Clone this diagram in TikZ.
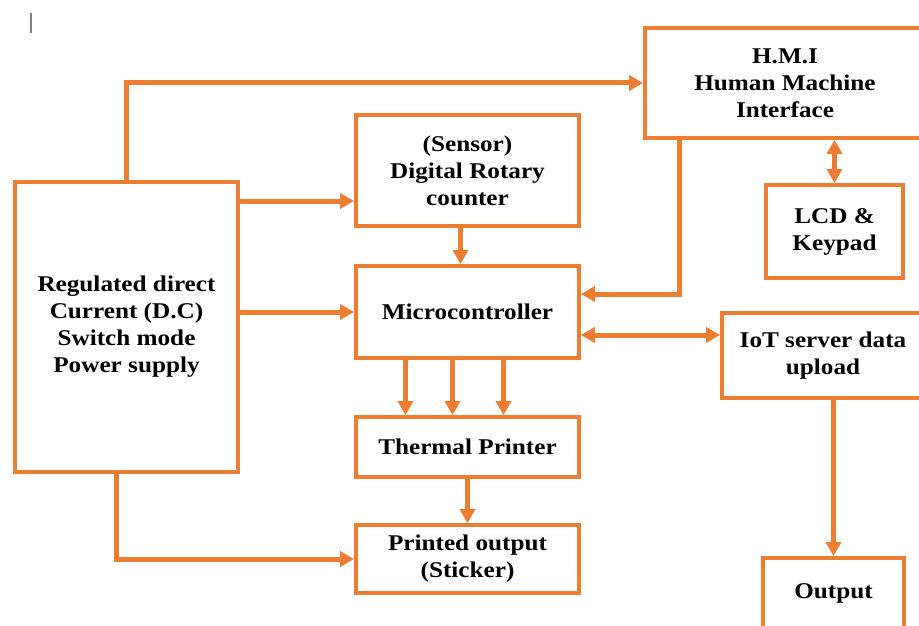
\documentclass[tikz,border=0pt]{standalone}
\usepackage{fontspec}
\setmainfont{Liberation Serif}[FakeStretch=1.12]
\usetikzlibrary{arrows.meta}
\definecolor{boxorange}{RGB}{237,125,49}
\tikzstyle{block} = [draw=boxorange,line width=3.8pt,fill=white,align=center,inner sep=0pt,font=\fontsize{22.5}{27}\selectfont\bfseries]
\tikzstyle{wire} = [draw=boxorange,line width=5pt,-{Triangle[length=14pt,width=15pt]}]
\tikzstyle{duplex} = [wire,{Triangle[length=14pt,width=15pt]}-{Triangle[length=14pt,width=15pt]}]

\begin{document}
\begin{tikzpicture}[x=1pt,y=-1pt]
    \clip (0,0) rectangle (919,626);
    \fill[white] (0,0) rectangle (919,626);
    \draw[gray,line width=1.5pt] (31,13) -- (31,33);

    \node[block,minimum width=223,minimum height=290] (power) at (126.5,327) {Regulated direct\\Current (D.C)\\Switch mode\\Power supply};
    \node[block,minimum width=223,minimum height=111] (sensor) at (467.5,170.5) {(Sensor)\\Digital Rotary\\counter};
    \node[block,minimum width=280,minimum height=110] (hmi) at (785,83) {H.M.I\\Human Machine\\Interface};
    \node[block,minimum width=137,minimum height=93] (lcd) at (834.5,231.5) {LCD \&\\Keypad};
    \node[block,minimum width=223,minimum height=92] (micro) at (467.5,312) {Microcontroller};
    \node[block,minimum width=202,minimum height=85] (iot) at (823,355.5) {IoT server data\\upload};
    \node[block,minimum width=223,minimum height=60] (thermal) at (467.5,447) {Thermal Printer};
    \node[block,minimum width=223,minimum height=68] (printed) at (467.5,559) {Printed output\\(Sticker)};
    \node[block,minimum width=141,minimum height=70] (output) at (833.5,593) {Output};

    % power supply feeds
    \draw[wire] (power.north) |- (hmi.west);
    \draw[wire] ([yshift=126pt]power.east) -- ([yshift=126pt]power.east -| sensor.west);
    \draw[wire] (power.east |- micro.west) -- (micro.west);
    \draw[wire] ([xshift=-10pt]power.south) |- (printed.west);

    % controller side
    \draw[wire] ([xshift=-7pt]sensor.south) -- ([xshift=-7pt]micro.north);
    \draw[wire] ([xshift=-106pt]hmi.south) |- ([yshift=18pt]micro.east);
    \draw[duplex] (lcd.north |- hmi.south) -- (lcd.north);
    \draw[duplex] ([yshift=-23pt]micro.east) -- ([yshift=-23pt]micro.east -| iot.west);
    \draw[wire] (iot.south -| output.north) -- (output.north);
    \foreach \dx in {-62,-15,36}
        \draw[wire] ([xshift=\dx pt]micro.south) -- ([xshift=\dx pt]thermal.north);
    \draw[wire] (thermal.south) -- (printed.north);
\end{tikzpicture}
\end{document}
